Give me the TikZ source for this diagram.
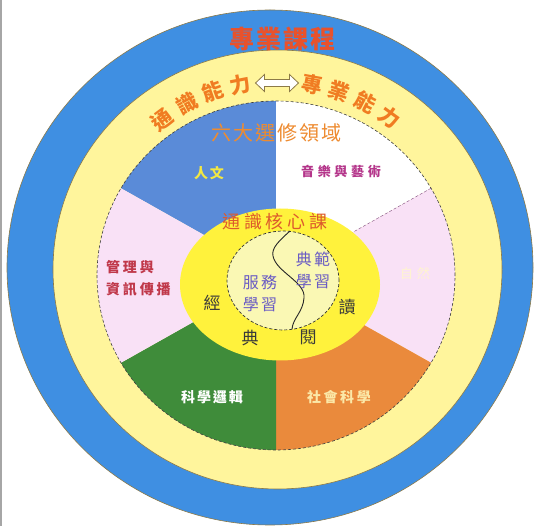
\documentclass[tikz,border=0pt]{standalone}
\usepackage{fontspec}
\newfontfamily\cjk{Noto Sans CJK TC}
\usetikzlibrary{calc}
\definecolor{ringblue}{HTML}{3F8FE2}
\definecolor{ringyellow}{HTML}{FFF59C}
\definecolor{pieblue}{HTML}{5A8BD8}
\definecolor{piepink}{HTML}{F9E1F6}
\definecolor{piegreen}{HTML}{3F8C3A}
\definecolor{pieorange}{HTML}{EA8A3C}
\definecolor{coreyellow}{HTML}{FFF23C}
\definecolor{corelight}{HTML}{FAF8B4}
\definecolor{edgecol}{HTML}{8C7A48}
\definecolor{titlered}{HTML}{E8522C}
\definecolor{arcorange}{HTML}{F07C22}
\definecolor{sixorange}{HTML}{EE8B30}
\definecolor{humyellow}{HTML}{F3E842}
\definecolor{musicmag}{HTML}{B4358A}
\definecolor{mgmtred}{HTML}{C0384A}
\definecolor{socyellow}{HTML}{FBE8A8}
\definecolor{natpale}{HTML}{FFF4D0}
\definecolor{corered}{HTML}{DD5A2C}
\definecolor{learnblue}{HTML}{6A5CC4}
\definecolor{readdark}{HTML}{3A3A3A}
\newcommand{\lsp}[1]{\addfontfeature{LetterSpace=#1}}
\newcommand{\fsz}[1]{\fontsize{#1}{#1}\selectfont}
\begin{document}
\begin{tikzpicture}[x=1pt,y=-1pt,
  txt/.style={inner sep=0pt, font=\cjk},
  arcchar/.style={txt, font=\cjk\bfseries\fsz{21}, text=arcorange},
  sector/.style={draw=none}]
\useasboundingbox (0,0) rectangle (536,526);
\fill[white] (0,0) rectangle (536,526);
\draw[gray!70, line width=2pt] (1,0) -- (1,526);
% rings
\filldraw[fill=ringblue, draw=edgecol, line width=0.6pt] (270,267.5) ellipse [x radius=263pt, y radius=257.5pt];
\filldraw[fill=ringyellow, draw=edgecol, line width=0.6pt] (277.5,269.5) ellipse [x radius=224.5pt, y radius=219.5pt];
% pie
\coordinate (P) at (276,275.5);
\foreach \a/\b/\c in {90/150/pieblue, 30/90/white, -30/30/piepink, -90/-30/pieorange, -150/-90/piegreen, 150/210/piepink}
  \fill[\c] (P) -- +(\a:179pt and 174.5pt) arc[start angle=\a, end angle=\b, x radius=179pt, y radius=174.5pt] -- cycle;
\draw[gray!60!violet, line width=0.4pt, densely dashed] (P) -- +(30:179pt and 174.5pt);
\draw[gray!50!black, line width=0.6pt, densely dashed] (P) ellipse [x radius=179pt, y radius=174.5pt];
% core
\fill[coreyellow] (280,284.5) ellipse [x radius=100pt, y radius=76pt];
\filldraw[fill=corelight, draw=gray!40!black, line width=0.7pt, densely dashed] (283,280.5) ellipse [x radius=56pt, y radius=49.5pt];
\coordinate (w1) at (290,231);
\coordinate (w2) at (273,256);
\coordinate (w3) at (304,298);
\coordinate (w4) at (292,329);
\draw[gray!30!black, line width=0.9pt] (w1) .. controls (280,240) and (271,248) .. (w2)
  .. controls (276,272) and (306,282) .. (w3) .. controls (303,312) and (293,318) .. (w4);
% double arrow
\filldraw[fill=white, draw=edgecol, line width=0.8pt]
  (255.5,83) -- (264.5,74.5) -- (264.5,79.5) -- (289.5,79.5) -- (289.5,74.5) -- (298.5,83)
  -- (289.5,91.5) -- (289.5,86.5) -- (264.5,86.5) -- (264.5,91.5) -- cycle;
% title
\node[txt, font=\cjk\bfseries\fsz{25}\lsp{8}, text=titlered] (title) at (282,39) {專業課程};
% arc texts
\coordinate (AC) at (277,272);
\foreach \ch/\ang [count=\i] in {通/127,識/118,能/109.5,力/101}
  \node[arcchar, rotate=\ang-90] (gl\i) at ($(AC)+(\ang:191pt)$) {\ch};
\foreach \ch/\ang [count=\i] in {專/79.5,業/71,能/62.5,力/54}
  \node[arcchar, rotate=\ang-90] (pr\i) at ($(AC)+(\ang:191pt)$) {\ch};
% sector labels
\node[txt, font=\cjk\fsz{20}\lsp{10}, text=sixorange] (six) at (276,133) {六大選修領域};
\node[txt, font=\cjk\bfseries\fsz{14}\lsp{12}, text=humyellow] (hum) at (209,173) {人文};
\node[txt, font=\cjk\bfseries\fsz{13}\lsp{28}, text=musicmag] (music) at (341,171) {音樂與藝術};
\node[txt, font=\cjk\fsz{13}\lsp{30}, text=natpale] (nat) at (415,274) {自然};
\node[txt, anchor=west, font=\cjk\bfseries\fsz{14}\lsp{20}, text=mgmtred] (mgmt1) at (106,267) {管理與};
\node[txt, anchor=west, font=\cjk\bfseries\fsz{14}\lsp{20}, text=mgmtred] (mgmt2) at (106,289) {資訊傳播};
\node[txt, font=\cjk\bfseries\fsz{14}\lsp{14}, text=white] (logic) at (212,397) {科學邏輯};
\node[txt, font=\cjk\bfseries\fsz{14}\lsp{18}, text=socyellow] (soc) at (339,397) {社會科學};
% core labels
\node[txt, font=\cjk\fsz{18}\lsp{20}, text=corered] (core) at (275,222) {通識核心課};
\node[txt, font=\cjk\fsz{16}\lsp{14}, text=learnblue] (mod1) at (313,259) {典範};
\node[txt, font=\cjk\fsz{16}\lsp{14}, text=learnblue] (mod2) at (313,282) {學習};
\node[txt, font=\cjk\fsz{16}\lsp{14}, text=learnblue] (srv1) at (260,282) {服務};
\node[txt, font=\cjk\fsz{16}\lsp{14}, text=learnblue] (srv2) at (260,305) {學習};
\node[txt, font=\cjk\fsz{17}, text=readdark] (r1) at (212,303) {經};
\node[txt, font=\cjk\fsz{17}, text=readdark] (r2) at (250,338) {典};
\node[txt, font=\cjk\fsz{17}, text=readdark] (r3) at (308,337) {閱};
\node[txt, font=\cjk\fsz{17}, text=readdark] (r4) at (347,307) {讀};
\end{tikzpicture}
\end{document}
